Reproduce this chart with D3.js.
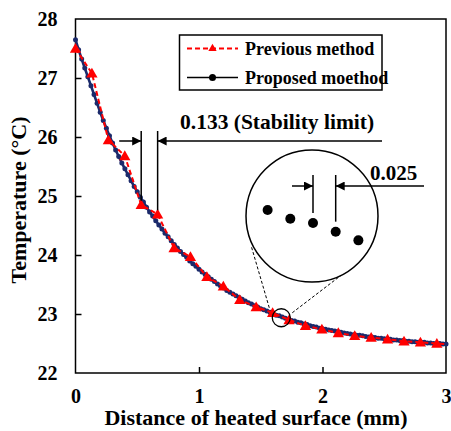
<!DOCTYPE html>
<html>
<head>
<meta charset="utf-8">
<script src="https://cdn.jsdelivr.net/npm/d3@7"></script>
<style>
  html, body { margin: 0; padding: 0; background: #fff; }
  svg { display: block; }
  svg text { font-family: "Liberation Serif", "Times New Roman", Times, "DejaVu Serif", serif !important; font-weight: bold; fill: #000; }
</style>
</head>
<body>
<svg id="chart" width="451" height="431"></svg>
<script>
// ---- Data ----
const xTicks = [0, 1, 2, 3];
const yTicks = [22, 23, 24, 25, 26, 27, 28];
const seriesNames = ["Previous method", "Proposed moethod"];

// Previous method (step 0.133 mm)
const prevX = [0, 0.133, 0.266, 0.399, 0.532, 0.665, 0.798, 0.931, 1.064, 1.197, 1.33, 1.463,
               1.596, 1.729, 1.862, 1.995, 2.128, 2.261, 2.394, 2.527, 2.66, 2.793, 2.926];
const prevT = [27.50, 27.08, 25.95, 25.68, 24.85, 24.69, 24.12, 23.97, 23.63, 23.47, 23.24, 23.12,
               23.02, 22.90, 22.80, 22.74, 22.68, 22.63, 22.60, 22.57, 22.54, 22.52, 22.50];
const prevEnd = [3.0, 22.49];

// Proposed method (step 0.025 mm, 0 .. 3)
const propStep = 0.025;
const propT = [
  27.65, 27.48, 27.32, 27.17, 27.02, 26.87, 26.72, 26.57, 26.42, 26.28,
  26.15, 26.02, 25.90, 25.78, 25.67, 25.56, 25.46, 25.36, 25.26, 25.16,
  25.07, 24.98, 24.90, 24.81, 24.73, 24.66, 24.58, 24.51, 24.44, 24.37,
  24.31, 24.24, 24.18, 24.12, 24.06, 24.01, 23.96, 23.90, 23.85, 23.81,
  23.76, 23.71, 23.67, 23.63, 23.59, 23.55, 23.51, 23.47, 23.44, 23.40,
  23.37, 23.34, 23.31, 23.28, 23.25, 23.22, 23.19, 23.17, 23.14, 23.12,
  23.09, 23.07, 23.05, 23.03, 23.00, 22.98, 22.97, 22.95, 22.93, 22.91,
  22.89, 22.88, 22.86, 22.85, 22.83, 22.82, 22.80, 22.79, 22.78, 22.76,
  22.75, 22.74, 22.73, 22.72, 22.71, 22.70, 22.69, 22.68, 22.67, 22.66,
  22.65, 22.64, 22.64, 22.63, 22.62, 22.61, 22.61, 22.60, 22.59, 22.59,
  22.58, 22.57, 22.57, 22.56, 22.56, 22.55, 22.55, 22.54, 22.54, 22.53,
  22.53, 22.52, 22.52, 22.52, 22.51, 22.51, 22.50, 22.50, 22.50, 22.49,
  22.49
];

// Annotation values
const stabilityLabel = "0.133 (Stability limit)";
const stabilityIdx = [4, 5];      // indices of previous-method points
const zoomLabel = "0.025";
const zoomIdx = [64, 65, 66, 67, 68];  // proposed-method points shown in the inset
const zoomLineIdx = [66, 67];

// ---- Layout ----
const FONT = "'Liberation Serif', 'Times New Roman', Times, 'DejaVu Serif', serif";
const svg = d3.select("#chart");
const m = { left: 75.5, right: 446, top: 19, bottom: 373 };
const x = d3.scaleLinear().domain([0, 3]).range([m.left, m.right]);
const y = d3.scaleLinear().domain([22, 28]).range([m.bottom, m.top]);

const navy = "#1b2a6b";
const red = "#ff0000";

const prevData = prevX.map((v, i) => ({ x: v, t: prevT[i] }));
const prevLineData = prevData.concat([{ x: prevEnd[0], t: prevEnd[1] }]);
const propData = propT.map((t, i) => ({ x: i * propStep, t }));

// Frame
svg.append("rect").attr("x", m.left).attr("y", m.top)
  .attr("width", m.right - m.left).attr("height", m.bottom - m.top)
  .attr("fill", "none").attr("stroke", "#000").attr("stroke-width", 1.5);

// Axes (ticks inward)
const xAxis = d3.axisBottom(x).tickValues(xTicks).tickSize(-6).tickPadding(16).tickFormat(d3.format("d"));
const gx = svg.append("g").attr("transform", `translate(0,${m.bottom})`).call(xAxis);
const yAxis = d3.axisLeft(y).tickValues(yTicks).tickSize(-6).tickPadding(18).tickFormat(d3.format("d"));
const gy = svg.append("g").attr("transform", `translate(${m.left},0)`).call(yAxis);
[gx, gy].forEach(g => {
  g.attr("font-family", FONT);
  g.select(".domain").remove();
  g.selectAll(".tick line").attr("stroke", "#000").attr("stroke-width", 1.5);
  g.selectAll(".tick text").style("font-size", "20px").style("font-family", FONT)
    .style("font-weight", "bold").attr("fill", "#000");
});
gy.selectAll(".tick line").filter(d => d === 22 || d === 28).remove();
gx.selectAll(".tick line").filter(d => d === 0 || d === 3).remove();

// Axis titles
svg.append("text").attr("x", 256).attr("y", 425).attr("text-anchor", "middle")
  .style("font-size", "22px").text("Distance of heated surface (mm)");
svg.append("text").attr("transform", `translate(26,200) rotate(-90)`)
  .attr("text-anchor", "middle").style("font-size", "22px").text("Temperature (\u00B0C)");

// Proposed method: navy line + dots
const line = d3.line().x(d => x(d.x)).y(d => y(d.t));
svg.append("path").datum(propData).attr("d", line)
  .attr("fill", "none").attr("stroke", navy).attr("stroke-width", 2.6);
svg.append("g").selectAll("circle").data(propData).join("circle")
  .attr("cx", d => x(d.x)).attr("cy", d => y(d.t)).attr("r", 2.5).attr("fill", navy);

// Previous method: red dashed line + triangles
svg.append("path").datum(prevLineData).attr("d", line)
  .attr("fill", "none").attr("stroke", red).attr("stroke-width", 2).attr("stroke-dasharray", "5,3");
const tri = d3.symbol().type(d3.symbolTriangle).size(55);
svg.append("g").selectAll("path").data(prevData).join("path")
  .attr("d", tri).attr("transform", d => `translate(${x(d.x)},${y(d.t) + 1})`).attr("fill", red);

// Arrow markers
const defs = svg.append("defs");
defs.append("marker").attr("id", "arr").attr("viewBox", "0 0 10 10").attr("refX", 10).attr("refY", 5)
  .attr("markerWidth", 11).attr("markerHeight", 9).attr("markerUnits", "userSpaceOnUse")
  .attr("orient", "auto")
  .append("path").attr("d", "M0,0 L10,5 L0,10 Z").attr("fill", "#000");

// Stability limit annotation
const sA = prevData[stabilityIdx[0]], sB = prevData[stabilityIdx[1]];
const sY = 141;
[sA, sB].forEach(p => {
  svg.append("line").attr("x1", x(p.x)).attr("x2", x(p.x)).attr("y1", 131).attr("y2", y(p.t) - 4)
    .attr("stroke", "#000").attr("stroke-width", 1.5);
});
svg.append("line").attr("x1", x(sA.x) - 22).attr("x2", x(sA.x)).attr("y1", sY).attr("y2", sY)
  .attr("stroke", "#000").attr("stroke-width", 1.5).attr("marker-end", "url(#arr)");
svg.append("line").attr("x1", 382).attr("x2", x(sB.x)).attr("y1", sY).attr("y2", sY)
  .attr("stroke", "#000").attr("stroke-width", 1.5).attr("marker-end", "url(#arr)");
svg.append("text").attr("x", 180).attr("y", 129).style("font-size", "21.5px").text(stabilityLabel);

// Zoom inset
const c0 = propData[zoomIdx[2]];
const small = { cx: x(c0.x) + 2, cy: y(c0.t) + 2, r: 9 };
const big = { cx: 312, cy: 216, r: 66 };
const M = 7.35;
const ix = d => big.cx + 1 + M * (x(d.x) - x(c0.x));
const iy = d => 223 + M * (y(d.t) - y(c0.t));

svg.append("circle").attr("cx", small.cx).attr("cy", small.cy).attr("r", small.r)
  .attr("fill", "none").attr("stroke", "#000").attr("stroke-width", 1.3);
svg.append("line").attr("x1", small.cx - 12).attr("y1", small.cy - 10).attr("x2", 251.5).attr("y2", 247)
  .attr("stroke", "#000").attr("stroke-width", 1).attr("stroke-dasharray", "3,2");
svg.append("line").attr("x1", small.cx + 11).attr("y1", small.cy - 5).attr("x2", 341.5).attr("y2", 275)
  .attr("stroke", "#000").attr("stroke-width", 1).attr("stroke-dasharray", "3,2");
svg.append("circle").attr("cx", big.cx).attr("cy", big.cy).attr("r", big.r)
  .attr("fill", "#fff").attr("stroke", "#000").attr("stroke-width", 1.5);

svg.append("g").selectAll("circle").data(zoomIdx.map(i => propData[i])).join("circle")
  .attr("cx", ix).attr("cy", iy).attr("r", 5).attr("fill", "#000");

const zA = propData[zoomLineIdx[0]], zB = propData[zoomLineIdx[1]];
const zY = 186;
[zA, zB].forEach(p => {
  svg.append("line").attr("x1", ix(p)).attr("x2", ix(p)).attr("y1", 175).attr("y2", iy(p) - 10)
    .attr("stroke", "#000").attr("stroke-width", 1.5);
});
svg.append("line").attr("x1", ix(zA) - 21).attr("x2", ix(zA)).attr("y1", zY).attr("y2", zY)
  .attr("stroke", "#000").attr("stroke-width", 1.5).attr("marker-end", "url(#arr)");
svg.append("line").attr("x1", 424).attr("x2", ix(zB)).attr("y1", zY).attr("y2", zY)
  .attr("stroke", "#000").attr("stroke-width", 1.5).attr("marker-end", "url(#arr)");
svg.append("text").attr("x", 370).attr("y", 180).style("font-size", "21px").text(zoomLabel);

// Legend
const lg = svg.append("g");
lg.append("rect").attr("x", 179.5).attr("y", 35).attr("width", 202.5).attr("height", 55)
  .attr("fill", "#fff").attr("stroke", "#000").attr("stroke-width", 1.5);
const rows = [48.5, 77.5];
lg.append("line").attr("x1", 187).attr("x2", 238).attr("y1", rows[0]).attr("y2", rows[0])
  .attr("stroke", red).attr("stroke-width", 2).attr("stroke-dasharray", "5,3");
lg.append("path").attr("d", d3.symbol().type(d3.symbolTriangle).size(30))
  .attr("transform", `translate(212.5,${rows[0]})`).attr("fill", red);
lg.append("line").attr("x1", 187).attr("x2", 238).attr("y1", rows[1]).attr("y2", rows[1])
  .attr("stroke", "#000").attr("stroke-width", 1.5);
lg.append("circle").attr("cx", 212.5).attr("cy", rows[1]).attr("r", 3.5).attr("fill", "#000");
seriesNames.forEach((n, i) => {
  lg.append("text").attr("x", 245).attr("y", rows[i] + 6).style("font-size", "18px").text(n);
});
</script>
</body>
</html>
